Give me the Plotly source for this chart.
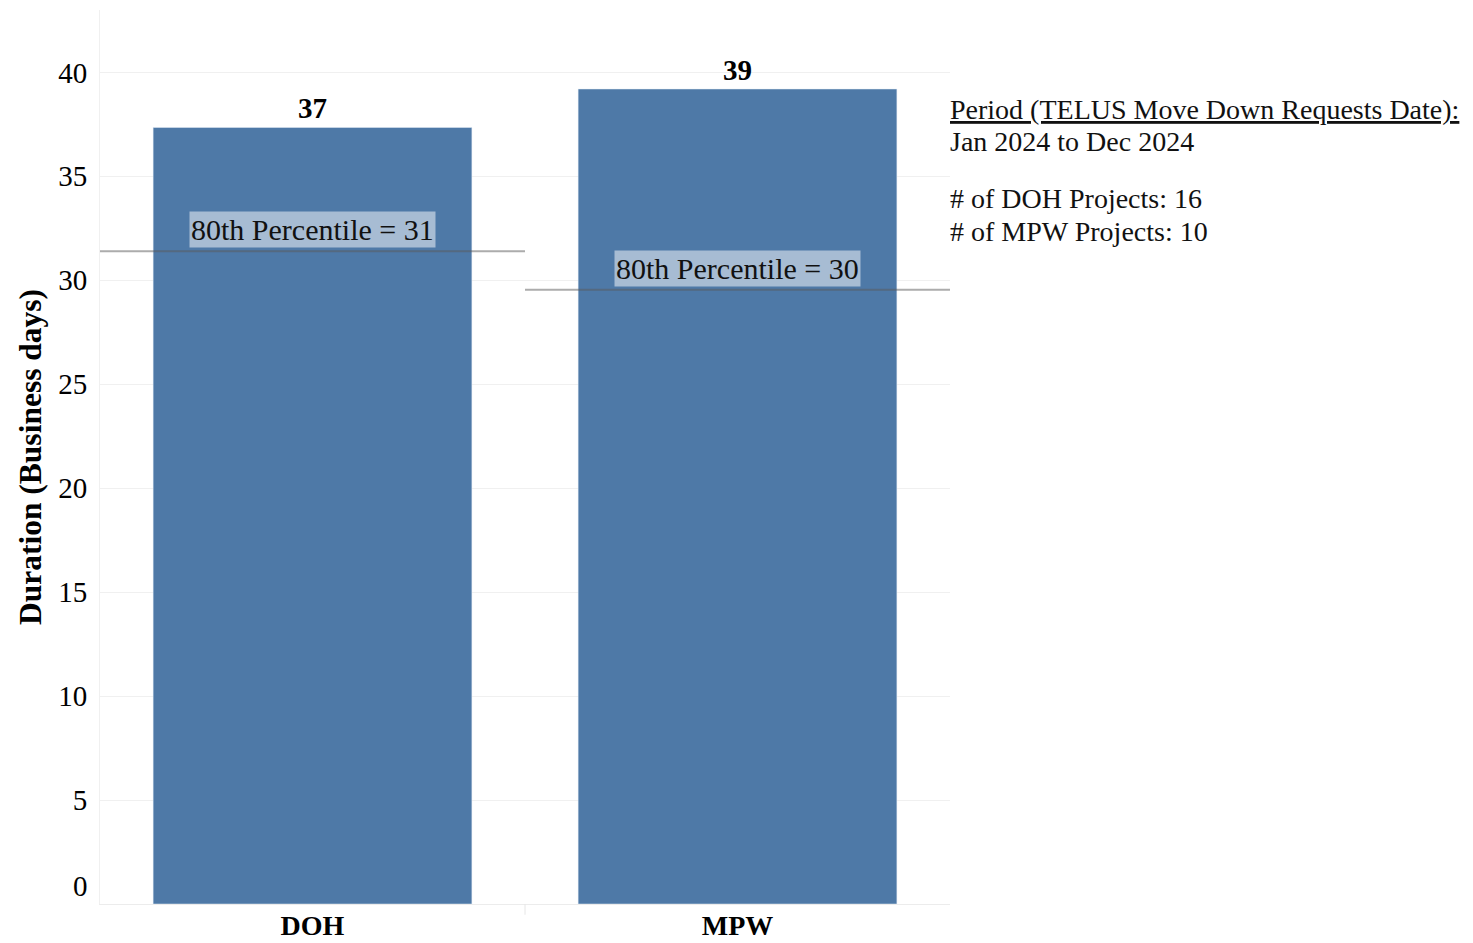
import plotly.graph_objects as go

# data
categories = ["DOH", "MPW"]
durations = [37.35, 39.2]
duration_labels = ["37", "39"]
p80_values = [31.4, 29.55]
p80_labels = ["31", "30"]
project_counts = [16, 10]
period_text = "Jan 2024 to Dec 2024"
y_ticks = [0, 5, 10, 15, 20, 25, 30, 35, 40]

BLUE = "#4e79a7"
FONT = "Liberation Serif, Times New Roman, serif"

x_pos = list(range(len(categories)))

fig = go.Figure()

fig.add_trace(go.Bar(
    x=x_pos,
    y=durations,
    width=0.75,
    marker_color=BLUE,
    text=[f"<b>{t}</b>" for t in duration_labels],
    textposition="outside",
    textfont=dict(size=29, color="black", family=FONT),
    cliponaxis=False,
    hoverinfo="skip",
))

# 80th percentile reference lines, one per category pane
for i, p in enumerate(p80_values):
    fig.add_trace(go.Scatter(
        x=[i - 0.5, i + 0.5],
        y=[p, p],
        mode="lines",
        line=dict(color="rgba(90,90,90,0.5)", width=2),
        hoverinfo="skip",
    ))
    fig.add_annotation(
        x=i, y=p, xref="x", yref="y",
        text=f"80th Percentile = {p80_labels[i]}",
        showarrow=False, yanchor="bottom", yshift=3,
        bgcolor="rgba(255,255,255,0.5)",
        borderpad=1,
        font=dict(size=30, color="#111", family=FONT),
    )

# pane divider tick under the axis
fig.add_shape(type="line", xref="x", yref="paper",
              x0=0.5, x1=0.5, y0=-0.012, y1=0.0,
              line=dict(color="#e6e6e6", width=1))

# the "0" label sits a bit above the axis in the original
fig.add_annotation(
    x=0, y=y_ticks[0], xref="paper", yref="y",
    xanchor="right", yanchor="middle", showarrow=False,
    text=str(y_ticks[0]), xshift=-10, yshift=18,
    font=dict(size=29, family=FONT, color="black"),
)

# side notes, one annotation per line
notes = [
    "<u>Period (TELUS Move Down Requests Date):</u>",
    period_text,
    f"# of {categories[0]} Projects: {project_counts[0]}",
    f"# of {categories[1]} Projects: {project_counts[1]}",
]
note_y = [0.889, 0.853, 0.789, 0.752]
for txt, yy in zip(notes, note_y):
    fig.add_annotation(
        x=1.0, y=yy, xref="paper", yref="paper",
        xanchor="left", yanchor="middle", align="left", showarrow=False,
        text=txt, xshift=-2,
        font=dict(size=28, color="#111", family=FONT),
    )

# the page body adds an 8px offset, so margins are shifted to compensate
fig.update_layout(
    width=1473, height=943,
    margin=dict(l=92, r=531, t=2, b=47),
    plot_bgcolor="white",
    paper_bgcolor="white",
    showlegend=False,
    font=dict(family=FONT, color="black"),
    xaxis=dict(
        range=[-0.5, 1.5],
        tickvals=x_pos,
        ticktext=[f"<b>{c}</b>" for c in categories],
        tickfont=dict(size=28, family=FONT, color="black"),
        showgrid=False, zeroline=False,
        showline=True, linecolor="#ececec", linewidth=1,
        ticks="", ticklabelstandoff=-4, automargin=False,
    ),
    yaxis=dict(
        range=[0, 43],
        tickvals=y_ticks[1:],
        tickfont=dict(size=29, family=FONT, color="black"),
        showgrid=True, gridcolor="#f0f0f0", gridwidth=1,
        zeroline=False,
        showline=True, linecolor="#f0f0f0", linewidth=1,
        ticks="", ticklabelstandoff=6, automargin=False,
        title=dict(text="<b>Duration (Business days)</b>",
                   font=dict(size=31.5, family=FONT, color="black"),
                   standoff=7),
    ),
)

fig.write_html("out.html")
